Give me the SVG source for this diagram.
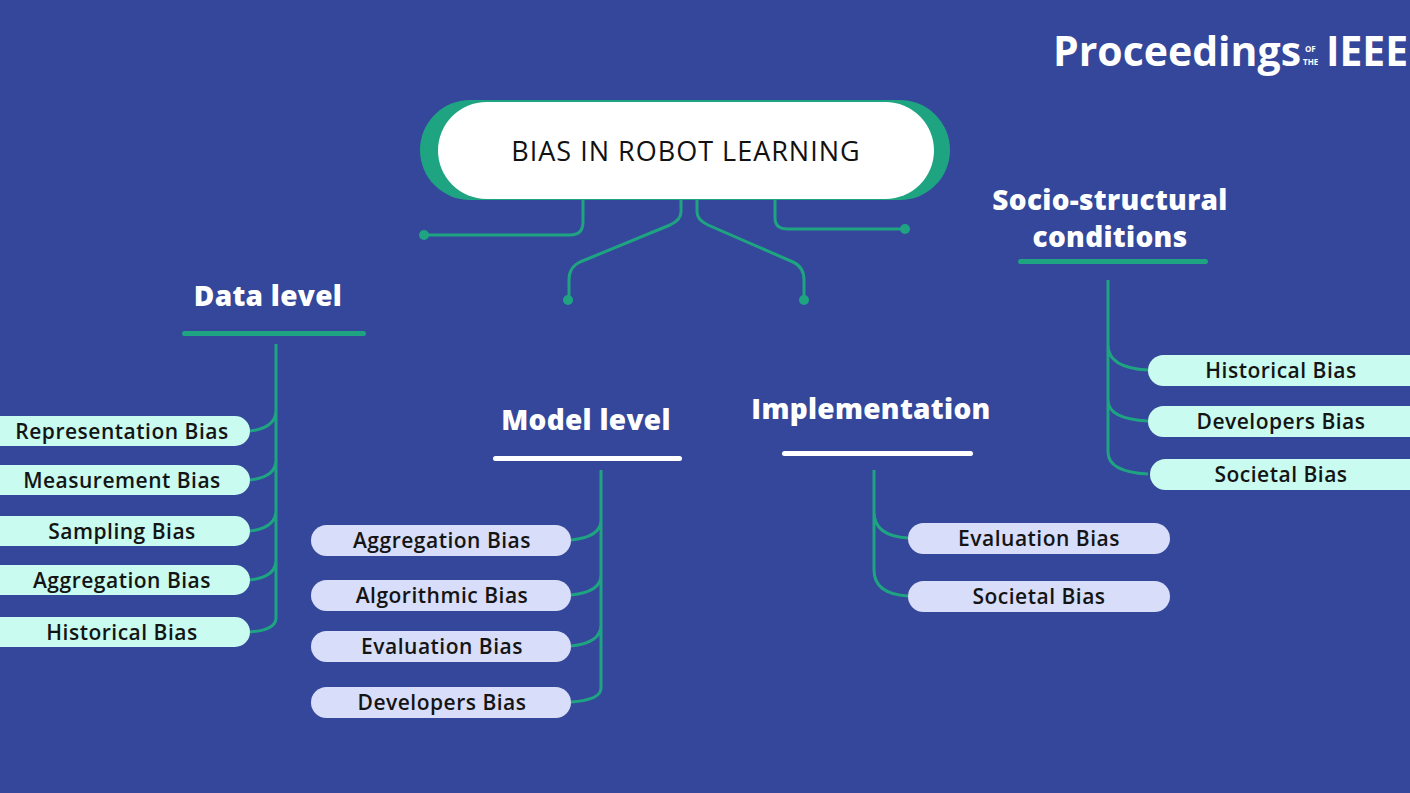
<svg xmlns="http://www.w3.org/2000/svg" width="1410" height="793" viewBox="0 0 1410 793">
<defs>
<style>
.bg{fill:#34479a}
.ln{fill:none;stroke:#1fa482;stroke-width:3}
.dot{fill:#1fa482}
.cy{fill:#c9fbf0}
.lv{fill:#d8ddf9}
.pt{font-family:"Open Sans","DejaVu Sans",sans-serif;font-size:21px;font-weight:600;fill:#141414;text-anchor:middle;letter-spacing:0.5px}
.tt{font-family:"Open Sans","DejaVu Sans",sans-serif;font-size:28px;font-weight:800;fill:#fff;text-anchor:middle;letter-spacing:0.3px}
</style>
</defs>
<rect class="bg" width="1410" height="793"/>
<g id="logo" font-family="'Open Sans','DejaVu Sans',sans-serif" fill="#fff" font-weight="700">
<text x="1053" y="66" font-size="42" textLength="248" lengthAdjust="spacingAndGlyphs">Proceedings</text>
<text x="1305" y="52" font-size="8">OF</text>
<text x="1303" y="65" font-size="8">THE</text>
<text x="1326" y="66" font-size="42" textLength="82" lengthAdjust="spacingAndGlyphs">IEEE</text>
</g>
<g id="connectors">
<path class="ln" d="M583,200 V222 Q583,235 570,235 H424"/>
<circle class="dot" cx="424" cy="235" r="5"/>
<path class="ln" d="M681,200 V212 Q681,220 670,225 L580,262 Q569,267 569,280 V300"/>
<circle class="dot" cx="568" cy="300" r="5"/>
<path class="ln" d="M697,200 V212 Q697,220 708,225 L793,262 Q804,267 804,280 V300"/>
<circle class="dot" cx="804" cy="300" r="5"/>
<path class="ln" d="M775,200 V218 Q775,229 788,229 H905"/>
<circle class="dot" cx="905" cy="229" r="5"/>
<path class="ln" d="M276,344 V618 Q276,630 250,632 M276,410 Q276,428 250,431 M276,460 Q276,477 250,480 M276,510 Q276,528 250,531 M276,560 Q276,577 250,580"/>
<path class="ln" d="M601,470 V688 Q601,700 571,702 M601,520 Q601,537 571,540 M601,575 Q601,592 571,595 M601,625 Q601,643 571,646"/>
<path class="ln" d="M874,470 V570 Q874,594 908,596 M874,512 Q874,536 908,538"/>
<path class="ln" d="M1108,280 V452 Q1108,472 1148,474 M1108,345 Q1108,368 1148,370 M1108,400 Q1108,419 1148,421"/>
</g>
<g id="root">
<rect x="420" y="100" width="530" height="100" rx="50" fill="#1fa482"/>
<rect x="438" y="102" width="496" height="97" rx="48.5" fill="#fff"/>
<text x="686" y="161" font-family="'Open Sans','DejaVu Sans',sans-serif" font-size="27" font-weight="500" fill="#111" text-anchor="middle" letter-spacing="1">BIAS IN ROBOT LEARNING</text>
</g>
<g id="data-level">
<text class="tt" x="268" y="306">Data level</text>
<rect x="182" y="331" width="184" height="5" rx="2.5" fill="#1fa482"/>
</g>
<g id="model-level">
<text class="tt" x="586" y="430">Model level</text>
<rect x="493" y="456" width="189" height="5" rx="2.5" fill="#fff"/>
</g>
<g id="implementation">
<text class="tt" x="871" y="419">Implementation</text>
<rect x="782" y="451" width="191" height="5" rx="2.5" fill="#fff"/>
</g>
<g id="socio">
<text class="tt" x="1110" y="210">Socio-structural</text>
<text class="tt" x="1110" y="247">conditions</text>
<rect x="1018" y="259" width="190" height="5" rx="2.5" fill="#1fa482"/>
</g>
<g id="data-items">
<rect class="cy" x="-20" y="416" width="270" height="30" rx="15"/><text class="pt" x="122" y="439">Representation Bias</text>
<rect class="cy" x="-20" y="465" width="270" height="30" rx="15"/><text class="pt" x="122" y="488">Measurement Bias</text>
<rect class="cy" x="-20" y="516" width="270" height="30" rx="15"/><text class="pt" x="122" y="539">Sampling Bias</text>
<rect class="cy" x="-20" y="565" width="270" height="30" rx="15"/><text class="pt" x="122" y="588">Aggregation Bias</text>
<rect class="cy" x="-20" y="617" width="270" height="30" rx="15"/><text class="pt" x="122" y="640">Historical Bias</text>
</g>
<g id="model-items">
<rect class="lv" x="311" y="525" width="260" height="31" rx="15.5"/><text class="pt" x="442" y="548">Aggregation Bias</text>
<rect class="lv" x="311" y="580" width="260" height="31" rx="15.5"/><text class="pt" x="442" y="603">Algorithmic Bias</text>
<rect class="lv" x="311" y="631" width="260" height="31" rx="15.5"/><text class="pt" x="442" y="654">Evaluation Bias</text>
<rect class="lv" x="311" y="687" width="260" height="31" rx="15.5"/><text class="pt" x="442" y="710">Developers Bias</text>
</g>
<g id="impl-items">
<rect class="lv" x="908" y="523" width="262" height="31" rx="15.5"/><text class="pt" x="1039" y="546">Evaluation Bias</text>
<rect class="lv" x="908" y="581" width="262" height="31" rx="15.5"/><text class="pt" x="1039" y="604">Societal Bias</text>
</g>
<g id="socio-items">
<rect class="cy" x="1148" y="355" width="282" height="31" rx="15.5"/><text class="pt" x="1281" y="378">Historical Bias</text>
<rect class="cy" x="1148" y="406" width="282" height="31" rx="15.5"/><text class="pt" x="1281" y="429">Developers Bias</text>
<rect class="cy" x="1150" y="459" width="280" height="31" rx="15.5"/><text class="pt" x="1281" y="482">Societal Bias</text>
</g>
</svg>
